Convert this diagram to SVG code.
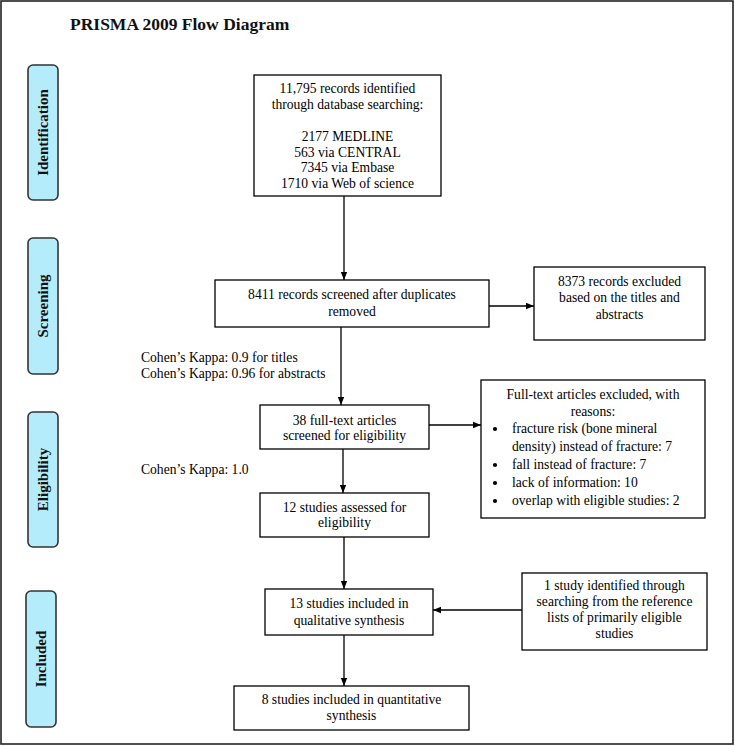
<svg xmlns="http://www.w3.org/2000/svg" width="735" height="746" viewBox="0 0 735 746">
<defs>
<marker id="ah" markerWidth="8" markerHeight="8" refX="8" refY="4" orient="auto" markerUnits="userSpaceOnUse">
<path d="M0,0.8 L8,4 L0,7.2 Z" fill="#000"/>
</marker>
<style>
.box{fill:#fff;stroke:#000;stroke-width:1.3}
.side{fill:#b5ecfc;stroke:#333;stroke-width:1.6}
.t{font-family:"Liberation Serif","Times New Roman",serif;font-size:13.6px;fill:#000}
.c{text-anchor:middle}
.sl{font-family:"Liberation Serif","Times New Roman",serif;font-size:15px;font-weight:bold;fill:#111;text-anchor:middle;dominant-baseline:central}
.ln{stroke:#000;stroke-width:1.3;fill:none}
</style>
</defs>
<rect x="0" y="0" width="735" height="746" fill="#fff"/>
<rect x="1" y="1" width="732" height="743" fill="none" stroke="#222" stroke-width="1.6"/>
<text x="70" y="30" font-family="Liberation Serif, Times New Roman, serif" font-size="17.5" font-weight="bold" fill="#111">PRISMA 2009 Flow Diagram</text>

<g id="side-identification">
<rect class="side" x="28" y="65" width="30" height="135" rx="5"/>
<text class="sl" transform="translate(43,132.5) rotate(-90)">Identification</text>
</g>
<g id="side-screening">
<rect class="side" x="28" y="238" width="30" height="136" rx="5"/>
<text class="sl" transform="translate(43,306) rotate(-90)">Screening</text>
</g>
<g id="side-eligibility">
<rect class="side" x="28" y="412" width="30" height="135" rx="5"/>
<text class="sl" transform="translate(43,479.5) rotate(-90)">Eligibility</text>
</g>
<g id="side-included">
<rect class="side" x="26" y="591" width="30" height="136" rx="5"/>
<text class="sl" transform="translate(41,659) rotate(-90)">Included</text>
</g>

<g id="connectors">
<line class="ln" x1="344" y1="196" x2="344" y2="280" marker-end="url(#ah)"/>
<line class="ln" x1="489" y1="306" x2="534" y2="306" marker-end="url(#ah)"/>
<line class="ln" x1="341" y1="327" x2="341" y2="405" marker-end="url(#ah)"/>
<line class="ln" x1="429" y1="425" x2="481" y2="425" marker-end="url(#ah)"/>
<line class="ln" x1="343" y1="449" x2="343" y2="493" marker-end="url(#ah)"/>
<line class="ln" x1="344" y1="537" x2="344" y2="589" marker-end="url(#ah)"/>
<line class="ln" x1="522" y1="610" x2="433" y2="610" marker-end="url(#ah)"/>
<line class="ln" x1="344" y1="635" x2="344" y2="686" marker-end="url(#ah)"/>
</g>

<g id="identified">
<rect class="box" x="254" y="75" width="187" height="121"/>
<text class="t c" x="347.5" y="92.5">11,795 records identified</text>
<text class="t c" x="347.5" y="108.5">through database searching:</text>
<text class="t c" x="347.5" y="140.5">2177 MEDLINE</text>
<text class="t c" x="347.5" y="156.5">563 via CENTRAL</text>
<text class="t c" x="347.5" y="171.5">7345 via Embase</text>
<text class="t c" x="347.5" y="187.5">1710 via Web of science</text>
</g>

<g id="screened">
<rect class="box" x="215" y="280" width="274" height="47"/>
<text class="t c" x="352" y="298.5">8411 records screened after duplicates</text>
<text class="t c" x="352" y="315.5">removed</text>
</g>

<g id="excluded-titles">
<rect class="box" x="534" y="267" width="171" height="73"/>
<text class="t c" x="619.5" y="285.5">8373 records excluded</text>
<text class="t c" x="619.5" y="301.5">based on the titles and</text>
<text class="t c" x="619.5" y="318.5">abstracts</text>
</g>

<g id="kappa-screening">
<text class="t" x="141" y="361.5">Cohen’s Kappa: 0.9 for titles</text>
<text class="t" x="141" y="377.5">Cohen’s Kappa: 0.96 for abstracts</text>
</g>

<g id="fulltext">
<rect class="box" x="260" y="405" width="169" height="44"/>
<text class="t c" x="344.5" y="424.5">38 full-text articles</text>
<text class="t c" x="344.5" y="439.5">screened for eligibility</text>
</g>

<g id="fulltext-excluded">
<rect class="box" x="481" y="380" width="224" height="138"/>
<text class="t c" x="593" y="398.5">Full-text articles excluded, with</text>
<text class="t c" x="593" y="415.5">reasons:</text>
<circle cx="495" cy="429" r="2.1" fill="#000"/>
<text class="t" x="512" y="432.5">fracture risk (bone mineral</text>
<text class="t" x="512" y="450.5">density) instead of fracture: 7</text>
<circle cx="495" cy="465" r="2.1" fill="#000"/>
<text class="t" x="512" y="468.5">fall instead of fracture:  7</text>
<circle cx="495" cy="483" r="2.1" fill="#000"/>
<text class="t" x="512" y="486.5">lack of information: 10</text>
<circle cx="495" cy="501" r="2.1" fill="#000"/>
<text class="t" x="512" y="504.5">overlap with eligible studies: 2</text>
</g>

<g id="kappa-eligibility">
<text class="t" x="141" y="473.5">Cohen’s Kappa: 1.0</text>
</g>

<g id="assessed">
<rect class="box" x="260" y="493" width="169" height="44"/>
<text class="t c" x="344.5" y="511.5">12 studies assessed for</text>
<text class="t c" x="344.5" y="526.5">eligibility</text>
</g>

<g id="qualitative">
<rect class="box" x="265" y="589" width="168" height="46"/>
<text class="t c" x="349" y="607.5">13 studies included in</text>
<text class="t c" x="349" y="624.5">qualitative synthesis</text>
</g>

<g id="reference-lists">
<rect class="box" x="522" y="573" width="185" height="77"/>
<text class="t c" x="614.5" y="589.5">1 study identified through</text>
<text class="t c" x="614.5" y="605.5">searching from the reference</text>
<text class="t c" x="614.5" y="621.5">lists of primarily eligible</text>
<text class="t c" x="614.5" y="637.5">studies</text>
</g>

<g id="quantitative">
<rect class="box" x="234" y="686" width="235" height="44"/>
<text class="t c" x="351.5" y="703.5">8 studies included in quantitative</text>
<text class="t c" x="351.5" y="719.5">synthesis</text>
</g>
</svg>
